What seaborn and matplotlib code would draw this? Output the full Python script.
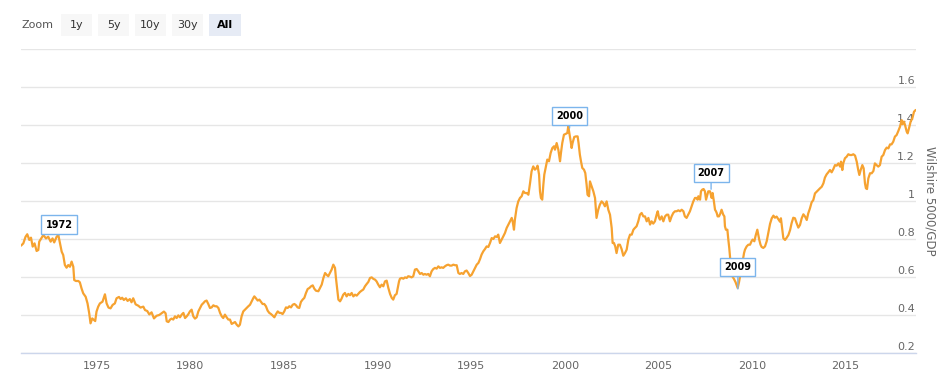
import matplotlib
matplotlib.use("Agg")
import matplotlib.pyplot as plt
import matplotlib.transforms as mtransforms
from matplotlib.patches import Rectangle
import seaborn as sns
import pandas as pd

# ---------------- data ----------------
ratio_1971_1978 = [
    (1970.96, 0.765), (1971.08, 0.777), (1971.20, 0.812), (1971.29, 0.825), (1971.40, 0.795),
    (1971.49, 0.807), (1971.58, 0.760), (1971.68, 0.777), (1971.79, 0.737), (1971.88, 0.742),
    (1971.93, 0.786), (1972.06, 0.807), (1972.15, 0.821), (1972.29, 0.803), (1972.41, 0.812),
    (1972.54, 0.786), (1972.64, 0.803), (1972.73, 0.782), (1972.86, 0.812), (1972.95, 0.821),
    (1973.04, 0.777), (1973.13, 0.733), (1973.21, 0.716), (1973.30, 0.663), (1973.39, 0.649),
    (1973.48, 0.663), (1973.57, 0.654), (1973.66, 0.681), (1973.75, 0.654), (1973.80, 0.584),
    (1973.89, 0.579), (1974.02, 0.579), (1974.10, 0.572), (1974.19, 0.540), (1974.28, 0.514),
    (1974.41, 0.496), (1974.51, 0.461), (1974.60, 0.409), (1974.67, 0.356), (1974.76, 0.382),
    (1974.85, 0.374), (1974.92, 0.368), (1974.99, 0.418), (1975.08, 0.444), (1975.17, 0.461),
    (1975.31, 0.470), (1975.44, 0.509), (1975.53, 0.461), (1975.63, 0.439), (1975.74, 0.435),
    (1975.85, 0.453), (1975.97, 0.461), (1976.06, 0.488), (1976.19, 0.495), (1976.28, 0.484),
    (1976.36, 0.491), (1976.45, 0.479), (1976.56, 0.488), (1976.65, 0.474), (1976.77, 0.484),
    (1976.86, 0.467), (1976.95, 0.488), (1977.08, 0.456), (1977.22, 0.449), (1977.34, 0.439),
    (1977.49, 0.444), (1977.58, 0.426), (1977.70, 0.421), (1977.81, 0.403), (1977.93, 0.414),
    (1978.06, 0.382), (1978.20, 0.396), (1978.34, 0.400), (1978.47, 0.409), (1978.59, 0.418),
    (1978.68, 0.409),
]
ratio_1979_1986 = [
    (1978.74, 0.367), (1978.83, 0.363), (1978.92, 0.376), (1979.00, 0.381), (1979.09, 0.376),
    (1979.18, 0.393), (1979.27, 0.384), (1979.36, 0.398), (1979.45, 0.388), (1979.54, 0.402),
    (1979.63, 0.411), (1979.72, 0.384), (1979.81, 0.393), (1979.90, 0.405), (1979.98, 0.419),
    (1980.07, 0.428), (1980.16, 0.393), (1980.25, 0.381), (1980.34, 0.388), (1980.43, 0.419),
    (1980.52, 0.437), (1980.61, 0.454), (1980.70, 0.463), (1980.78, 0.472), (1980.87, 0.476),
    (1980.96, 0.458), (1981.05, 0.437), (1981.14, 0.440), (1981.23, 0.451), (1981.32, 0.446),
    (1981.41, 0.446), (1981.50, 0.437), (1981.59, 0.411), (1981.68, 0.393), (1981.76, 0.384),
    (1981.85, 0.402), (1981.94, 0.388), (1982.03, 0.376), (1982.12, 0.376), (1982.21, 0.353),
    (1982.30, 0.358), (1982.39, 0.363), (1982.48, 0.349), (1982.57, 0.340), (1982.65, 0.349),
    (1982.74, 0.393), (1982.83, 0.419), (1982.92, 0.428), (1983.01, 0.437), (1983.10, 0.446),
    (1983.19, 0.454), (1983.28, 0.472), (1983.37, 0.490), (1983.42, 0.498), (1983.49, 0.490),
    (1983.60, 0.476), (1983.69, 0.481), (1983.78, 0.469), (1983.86, 0.458), (1983.95, 0.458),
    (1984.04, 0.446), (1984.13, 0.423), (1984.22, 0.411), (1984.31, 0.405), (1984.40, 0.397),
    (1984.49, 0.388), (1984.58, 0.405), (1984.67, 0.419), (1984.76, 0.411), (1984.84, 0.411),
    (1984.93, 0.405), (1985.02, 0.419), (1985.11, 0.440), (1985.20, 0.437), (1985.29, 0.446),
    (1985.38, 0.440), (1985.47, 0.454), (1985.56, 0.458), (1985.65, 0.451), (1985.73, 0.440),
    (1985.82, 0.437), (1985.91, 0.469), (1986.00, 0.481), (1986.09, 0.490), (1986.18, 0.516),
    (1986.27, 0.537), (1986.36, 0.542), (1986.45, 0.551), (1986.54, 0.556), (1986.62, 0.539),
    (1986.71, 0.528),
]
ratio_1987_1994 = [
    (1986.84, 0.525), (1986.93, 0.542), (1987.02, 0.560), (1987.11, 0.595), (1987.20, 0.621),
    (1987.28, 0.612), (1987.37, 0.604), (1987.46, 0.621), (1987.55, 0.639), (1987.64, 0.665),
    (1987.73, 0.648), (1987.78, 0.595), (1987.84, 0.542), (1987.91, 0.481), (1988.00, 0.472),
    (1988.08, 0.486), (1988.17, 0.507), (1988.26, 0.516), (1988.35, 0.498), (1988.44, 0.511),
    (1988.53, 0.504), (1988.62, 0.516), (1988.71, 0.498), (1988.80, 0.507), (1988.89, 0.502),
    (1988.97, 0.511), (1989.06, 0.521), (1989.15, 0.528), (1989.24, 0.534), (1989.33, 0.551),
    (1989.42, 0.563), (1989.51, 0.574), (1989.60, 0.595), (1989.69, 0.598), (1989.78, 0.590),
    (1989.87, 0.586), (1989.95, 0.577), (1990.04, 0.560), (1990.13, 0.546), (1990.22, 0.560),
    (1990.31, 0.551), (1990.40, 0.577), (1990.49, 0.581), (1990.58, 0.542), (1990.67, 0.511),
    (1990.76, 0.490), (1990.84, 0.481), (1990.93, 0.504), (1991.02, 0.511), (1991.08, 0.542),
    (1991.15, 0.577), (1991.20, 0.591), (1991.29, 0.595), (1991.38, 0.591), (1991.47, 0.598),
    (1991.56, 0.595), (1991.64, 0.604), (1991.73, 0.602), (1991.82, 0.598), (1991.91, 0.604),
    (1992.00, 0.639), (1992.09, 0.642), (1992.18, 0.630), (1992.27, 0.616), (1992.36, 0.621),
    (1992.45, 0.612), (1992.53, 0.616), (1992.62, 0.612), (1992.71, 0.616), (1992.80, 0.604),
    (1992.89, 0.630), (1992.98, 0.642), (1993.07, 0.648), (1993.16, 0.644), (1993.25, 0.656),
    (1993.34, 0.648), (1993.42, 0.651), (1993.51, 0.648), (1993.60, 0.656), (1993.69, 0.662),
    (1993.78, 0.665), (1993.87, 0.660), (1993.96, 0.660), (1994.05, 0.665), (1994.14, 0.662),
    (1994.23, 0.662), (1994.32, 0.621), (1994.40, 0.616), (1994.49, 0.621), (1994.58, 0.616),
    (1994.67, 0.630), (1994.76, 0.634), (1994.85, 0.621), (1994.94, 0.605),
]
ratio_1995_2002 = [
    (1995.03, 0.612), (1995.12, 0.630), (1995.21, 0.647), (1995.30, 0.665), (1995.39, 0.674),
    (1995.48, 0.695), (1995.56, 0.718), (1995.65, 0.735), (1995.74, 0.747), (1995.83, 0.761),
    (1995.92, 0.758), (1996.01, 0.779), (1996.10, 0.805), (1996.19, 0.800), (1996.28, 0.814),
    (1996.37, 0.811), (1996.45, 0.823), (1996.54, 0.779), (1996.63, 0.796), (1996.72, 0.814),
    (1996.81, 0.832), (1996.90, 0.858), (1996.99, 0.875), (1997.08, 0.893), (1997.17, 0.911),
    (1997.22, 0.893), (1997.29, 0.849), (1997.34, 0.902), (1997.43, 0.963), (1997.52, 0.998),
    (1997.61, 1.016), (1997.70, 1.025), (1997.79, 1.051), (1997.88, 1.042), (1997.97, 1.042),
    (1998.06, 1.033), (1998.15, 1.095), (1998.23, 1.156), (1998.32, 1.182), (1998.41, 1.165),
    (1998.50, 1.174), (1998.55, 1.186), (1998.63, 1.139), (1998.68, 1.051), (1998.73, 1.016),
    (1998.80, 1.007), (1998.86, 1.086), (1998.91, 1.139), (1998.98, 1.174), (1999.07, 1.218),
    (1999.16, 1.209), (1999.25, 1.253), (1999.34, 1.279), (1999.43, 1.288), (1999.48, 1.270),
    (1999.57, 1.305), (1999.66, 1.270), (1999.75, 1.209), (1999.80, 1.253), (1999.87, 1.305),
    (1999.96, 1.349), (2000.05, 1.353), (2000.14, 1.358), (2000.19, 1.393), (2000.25, 1.358),
    (2000.32, 1.314), (2000.37, 1.279), (2000.42, 1.305), (2000.51, 1.337), (2000.60, 1.340),
    (2000.69, 1.340), (2000.74, 1.305), (2000.81, 1.244), (2000.87, 1.209), (2000.94, 1.174),
    (2001.03, 1.165), (2001.10, 1.147), (2001.17, 1.086), (2001.22, 1.033), (2001.30, 1.025),
    (2001.35, 1.103), (2001.44, 1.077), (2001.53, 1.051), (2001.62, 1.016), (2001.70, 0.911),
    (2001.79, 0.954), (2001.88, 0.981), (2001.97, 0.998), (2002.06, 0.989), (2002.15, 0.972),
    (2002.24, 0.998), (2002.33, 0.954), (2002.42, 0.928), (2002.51, 0.858), (2002.56, 0.779),
    (2002.63, 0.779), (2002.70, 0.761), (2002.77, 0.726), (2002.86, 0.770), (2002.95, 0.770),
]
ratio_2003_2010 = [
    (2003.04, 0.747), (2003.13, 0.712), (2003.22, 0.726), (2003.31, 0.744), (2003.40, 0.797),
    (2003.49, 0.823), (2003.58, 0.823), (2003.67, 0.849), (2003.75, 0.858), (2003.84, 0.867),
    (2003.93, 0.893), (2004.02, 0.928), (2004.11, 0.937), (2004.20, 0.919), (2004.29, 0.919),
    (2004.38, 0.893), (2004.47, 0.911), (2004.56, 0.876), (2004.64, 0.893), (2004.73, 0.881),
    (2004.82, 0.893), (2004.91, 0.928), (2004.97, 0.946), (2005.04, 0.911), (2005.09, 0.902),
    (2005.18, 0.919), (2005.27, 0.893), (2005.36, 0.919), (2005.45, 0.928), (2005.53, 0.928),
    (2005.62, 0.893), (2005.71, 0.919), (2005.80, 0.937), (2005.89, 0.946), (2005.98, 0.946),
    (2006.07, 0.951), (2006.16, 0.946), (2006.25, 0.954), (2006.34, 0.946), (2006.42, 0.919),
    (2006.51, 0.911), (2006.60, 0.928), (2006.69, 0.946), (2006.78, 0.972), (2006.87, 0.998),
    (2006.96, 1.016), (2007.05, 1.016), (2007.10, 1.007), (2007.14, 1.025), (2007.23, 1.007),
    (2007.28, 1.051), (2007.35, 1.060), (2007.42, 1.063), (2007.49, 1.051), (2007.55, 1.007),
    (2007.62, 1.033), (2007.67, 1.051), (2007.76, 1.051), (2007.85, 1.016), (2007.90, 1.042),
    (2007.97, 0.998), (2008.03, 0.954), (2008.08, 0.946), (2008.12, 0.937), (2008.17, 0.919),
    (2008.24, 0.919), (2008.31, 0.933), (2008.38, 0.954), (2008.47, 0.928), (2008.53, 0.919),
    (2008.56, 0.867), (2008.61, 0.849), (2008.69, 0.849), (2008.74, 0.797), (2008.79, 0.753),
    (2008.86, 0.674), (2008.95, 0.604), (2009.04, 0.590), (2009.13, 0.572), (2009.24, 0.542),
    (2009.31, 0.572), (2009.40, 0.621), (2009.49, 0.674), (2009.58, 0.726), (2009.63, 0.744),
    (2009.72, 0.761), (2009.81, 0.770), (2009.90, 0.770), (2009.98, 0.788), (2010.04, 0.797),
    (2010.13, 0.788), (2010.20, 0.818), (2010.29, 0.849), (2010.34, 0.823), (2010.39, 0.797),
    (2010.46, 0.770), (2010.52, 0.758), (2010.61, 0.753), (2010.70, 0.761), (2010.79, 0.788),
]
ratio_2011_2018 = [
    (2010.88, 0.835), (2010.97, 0.880), (2011.06, 0.909), (2011.15, 0.923), (2011.23, 0.912),
    (2011.32, 0.918), (2011.41, 0.905), (2011.50, 0.891), (2011.55, 0.909), (2011.63, 0.847),
    (2011.68, 0.804), (2011.77, 0.795), (2011.86, 0.807), (2011.95, 0.821), (2012.04, 0.847),
    (2012.12, 0.883), (2012.21, 0.912), (2012.30, 0.909), (2012.39, 0.883), (2012.48, 0.860),
    (2012.57, 0.874), (2012.66, 0.909), (2012.75, 0.930), (2012.84, 0.918), (2012.93, 0.900),
    (2013.01, 0.935), (2013.10, 0.961), (2013.19, 0.993), (2013.28, 1.005), (2013.37, 1.040),
    (2013.46, 1.049), (2013.55, 1.058), (2013.64, 1.067), (2013.73, 1.075), (2013.82, 1.093),
    (2013.90, 1.123), (2013.99, 1.140), (2014.08, 1.151), (2014.17, 1.163), (2014.26, 1.151),
    (2014.35, 1.168), (2014.44, 1.189), (2014.53, 1.186), (2014.62, 1.198), (2014.71, 1.181),
    (2014.76, 1.207), (2014.83, 1.163), (2014.88, 1.198), (2014.97, 1.225), (2015.06, 1.233),
    (2015.15, 1.246), (2015.24, 1.242), (2015.33, 1.242), (2015.42, 1.246), (2015.51, 1.239),
    (2015.60, 1.207), (2015.68, 1.163), (2015.74, 1.137), (2015.81, 1.163), (2015.90, 1.189),
    (2015.97, 1.172), (2016.04, 1.093), (2016.09, 1.067), (2016.15, 1.063), (2016.22, 1.119),
    (2016.31, 1.146), (2016.40, 1.146), (2016.49, 1.158), (2016.57, 1.198), (2016.66, 1.189),
    (2016.75, 1.181), (2016.84, 1.189), (2016.93, 1.233), (2017.02, 1.242), (2017.11, 1.268),
    (2017.20, 1.281), (2017.29, 1.277), (2017.38, 1.298), (2017.46, 1.298), (2017.55, 1.312),
    (2017.64, 1.339), (2017.73, 1.347), (2017.82, 1.368), (2017.91, 1.391), (2018.00, 1.426),
    (2018.05, 1.404), (2018.12, 1.418), (2018.18, 1.400), (2018.27, 1.365), (2018.32, 1.356),
    (2018.39, 1.382), (2018.48, 1.418), (2018.57, 1.435), (2018.66, 1.470), (2018.75, 1.479),
]

flag_labels = ["1972", "2000", "2007", "2009"]
flag_years = [1972.99, 2000.26, 2007.82, 2009.25]
flag_point_values = [0.821, 1.384, 1.062, 0.537]
flag_text_values = [0.876, 1.447, 1.146, 0.654]

y_grid_values = [0.2, 0.4, 0.6, 0.8, 1.0, 1.2, 1.4, 1.6, 1.8]
y_tick_labels = ["0.2", "0.4", "0.6", "0.8", "1", "1.2", "1.4", "1.6", ""]
x_tick_years = [1975, 1980, 1985, 1990, 1995, 2000, 2005, 2010, 2015]
x_tick_labels = ["1975", "1980", "1985", "1990", "1995", "2000", "2005", "2010", "2015"]
zoom_buttons = ["1y", "5y", "10y", "30y", "All"]
selected_button = "All"
y_title = "Wilshire 5000/GDP"

# ---------------- figure ----------------
W, H = 946, 387
sns.set_style("white")
plt.rcParams["font.family"] = ["DejaVu Sans"]

fig = plt.figure(figsize=(W / 100, H / 100), dpi=100)
left_px, right_px, top_px, bottom_px = 21, 916, 49, 353
ax = fig.add_axes([left_px / W, 1 - bottom_px / H,
                   (right_px - left_px) / W, (bottom_px - top_px) / H])

rows = ratio_1971_1978 + ratio_1979_1986 + ratio_1987_1994 + ratio_1995_2002 + ratio_2003_2010 + ratio_2011_2018
df = pd.DataFrame(rows, columns=["year", "ratio"])

LINE = "#f6a230"
sns.lineplot(data=df, x="year", y="ratio", ax=ax, color=LINE, linewidth=1.6,
             estimator=None, sort=False, zorder=4)

ax.set_xlim(1970.956, 2018.766)
ax.set_ylim(0.2, 1.8)
ax.set_xlabel("")
ax.set_ylabel("")

for s in ["left", "right", "top"]:
    ax.spines[s].set_visible(False)
ax.spines["bottom"].set_color("#ccd6eb")
ax.spines["bottom"].set_linewidth(1)

ax.set_yticks(y_grid_values)
ax.tick_params(axis="y", length=0, labelleft=False, labelright=False)
ax.yaxis.grid(True, color="#e6e6e6", linewidth=1)
ax.xaxis.grid(False)
ax.set_axisbelow(True)

ax.set_xticks(x_tick_years)
ax.set_xticklabels(x_tick_labels)
ax.tick_params(axis="x", length=3.6, width=0.8, color="#ccd6eb", labelcolor="#666666",
               labelsize=8, pad=2.5, direction="out")

# y labels inside the plot, right aligned, just above the gridline
ytrans = mtransforms.blended_transform_factory(ax.transAxes, ax.transData) + \
    mtransforms.ScaledTranslation(-1 / 100, 1 / 100, fig.dpi_scale_trans)
for v, lab in zip(y_grid_values, y_tick_labels):
    if lab:
        ax.text(1.0, v, lab, transform=ytrans, ha="right", va="bottom",
                fontsize=8, color="#666666", zorder=1)

ax.set_ylabel(y_title, rotation=-90, color="#666666", fontsize=8.5)
ax.yaxis.set_label_position("right")
ax.yaxis.set_label_coords((930 - left_px) / (right_px - left_px), 0.5)
ax.yaxis.label.set_va("center")
ax.yaxis.label.set_ha("center")

# flags
for lab, fx, fpv, ftv in zip(flag_labels, flag_years, flag_point_values, flag_text_values):
    ax.annotate(lab, xy=(fx, fpv), xytext=(fx, ftv), textcoords="data",
                ha="center", va="center", fontsize=7, fontweight="bold", color="#000000",
                bbox=dict(boxstyle="square,pad=0.42", fc="white", ec="#7cb5ec", lw=1),
                arrowprops=dict(arrowstyle="-", color="#7cb5ec", lw=1, shrinkA=0, shrinkB=0),
                zorder=6, annotation_clip=False)

# range selector
def fig_rect(x0, y0, x1, y1, color):
    fig.add_artist(Rectangle((x0 / W, 1 - y1 / H), (x1 - x0) / W, (y1 - y0) / H,
                             transform=fig.transFigure, fc=color, ec="none"))

fig.text(21 / W, 1 - 25 / H, "Zoom", ha="left", va="center", fontsize=8, color="#555555")
btn_x = [(61, 92), (98, 129), (135, 166), (172, 203), (209, 241)]
for lab, (x0, x1) in zip(zoom_buttons, btn_x):
    sel = lab == selected_button
    fig_rect(x0, 14, x1, 36, "#e6ebf5" if sel else "#f7f7f7")
    fig.text((x0 + x1) / 2 / W, 1 - 25 / H, lab, ha="center", va="center", fontsize=8,
             color="#000000" if sel else "#333333", fontweight="bold" if sel else "normal")

fig.savefig("out.png", dpi=100)
